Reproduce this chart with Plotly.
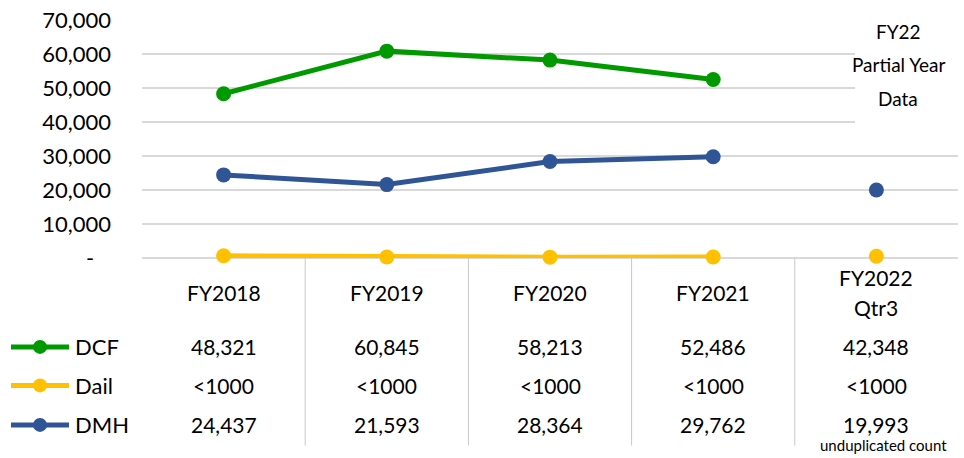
import plotly.graph_objects as go

# Fiscal years and counts per program
categories = ["FY2018", "FY2019", "FY2020", "FY2021", "FY2022 Qtr3"]
cat_lines = [["FY2018"], ["FY2019"], ["FY2020"], ["FY2021"], ["FY2022", "Qtr3"]]

dcf = [48321, 60845, 58213, 52486, 42348]
dail = [650, 300, 250, 300, 500]          # all under 1,000
dmh = [24437, 21593, 28364, 29762, 19993]

dcf_text = ["48,321", "60,845", "58,213", "52,486", "42,348"]
dail_text = ["<1000", "<1000", "<1000", "<1000", "<1000"]
dmh_text = ["24,437", "21,593", "28,364", "29,762", "19,993"]

y_ticks = [0, 10000, 20000, 30000, 40000, 50000, 60000, 70000]
y_tick_text = ["-\u00a0\u00a0\u00a0", "10,000", "20,000", "30,000", "40,000",
               "50,000", "60,000", "70,000"]

GREEN = "#009a00"
YELLOW = "#ffc000"
BLUE = "#2f5597"
FONT = "Lato"

W, H = 964, 458
L, R, T, B = 142, 6, 17, 200
PW, PH = W - L - R, H - T - B


def py(pix):
    """pixel row -> paper y"""
    return (H - B - pix) / PH


def px(pix):
    """pixel column -> paper x"""
    return (pix - L) / PW


fig = go.Figure()

full = categories[:4]
series = [("DCF", dcf, GREEN, False), ("Dail", dail, YELLOW, True), ("DMH", dmh, BLUE, True)]
for name, vals, color, show_partial in series:
    fig.add_trace(go.Scatter(
        x=full, y=vals[:4], mode="lines+markers", name=name,
        line=dict(color=color, width=5),
        marker=dict(color=color, size=15),
        showlegend=False, cliponaxis=False))
    if show_partial:
        fig.add_trace(go.Scatter(
            x=[categories[4]], y=[vals[4]], mode="markers", name=name,
            marker=dict(color=color, size=15),
            showlegend=False, cliponaxis=False))

shapes = []
annotations = []

# white panel behind the partial-year note
shapes.append(dict(type="rect", xref="paper", yref="paper",
                   x0=px(855), x1=px(964), y0=py(0), y1=py(136),
                   fillcolor="white", line=dict(width=0), layer="above"))
for txt, yy in [("FY22", 29), ("Partial Year", 62), ("Data", 96)]:
    annotations.append(dict(xref="paper", yref="paper", x=px(898), y=py(yy),
                            text=txt, showarrow=False, xanchor="center", yanchor="middle",
                            font=dict(family=FONT, size=19, color="#000000")))

# data-table column separators
for i in range(4):
    shapes.append(dict(type="line", xref="x", yref="paper",
                       x0=i + 0.5, x1=i + 0.5, y0=py(258), y1=py(448),
                       line=dict(color="#c8c8c8", width=1)))

# category labels
for c, lines in zip(categories, cat_lines):
    ys = [293] if len(lines) == 1 else [278, 308]
    for lab, yy in zip(lines, ys):
        annotations.append(dict(xref="x", yref="paper", x=c, y=py(yy), text=lab,
                                showarrow=False, xanchor="center", yanchor="middle",
                                font=dict(family=FONT, size=21, color="#000000")))

# table rows
rows = [("DCF", dcf_text, GREEN, 348), ("Dail", dail_text, YELLOW, 387), ("DMH", dmh_text, BLUE, 427)]
for name, texts, color, yy in rows:
    shapes.append(dict(type="line", xref="paper", yref="paper",
                       x0=px(11), x1=px(69), y0=py(yy), y1=py(yy),
                       line=dict(color=color, width=5)))
    shapes.append(dict(type="circle", xref="paper", yref="paper",
                       xsizemode="pixel", ysizemode="pixel",
                       xanchor=px(40), yanchor=py(yy),
                       x0=-7, x1=7, y0=-7, y1=7,
                       fillcolor=color, line=dict(width=0)))
    annotations.append(dict(xref="paper", yref="paper", x=px(73), y=py(yy), text=name,
                            showarrow=False, xanchor="left", yanchor="middle",
                            font=dict(family=FONT, size=22, color="#000000")))
    for c, t in zip(categories, texts):
        annotations.append(dict(xref="x", yref="paper", x=c, y=py(yy), text=t,
                                showarrow=False, xanchor="center", yanchor="middle",
                                font=dict(family=FONT, size=21, color="#000000")))

annotations.append(dict(xref="paper", yref="paper", x=px(883), y=py(447),
                        text="unduplicated count", showarrow=False,
                        xanchor="center", yanchor="middle",
                        font=dict(family=FONT, size=15, color="#000000")))

fig.update_layout(
    width=W, height=H,
    margin=dict(l=L, r=R, t=T, b=B, pad=0),
    paper_bgcolor="white", plot_bgcolor="white",
    font=dict(family=FONT, size=21, color="#000000"),
    shapes=shapes, annotations=annotations,
    xaxis=dict(type="category", categoryorder="array", categoryarray=categories,
               range=[-0.5, 4.5], showticklabels=False, showgrid=False,
               zeroline=False, showline=False, ticks=""),
    yaxis=dict(range=[0, 70000], tickvals=y_ticks, ticktext=y_tick_text,
               showgrid=True, gridcolor="#d9d9d9", gridwidth=1.5,
               zeroline=True, zerolinecolor="#d9d9d9", zerolinewidth=1.5,
               showline=False, ticks="", ticklabelstandoff=30,
               tickfont=dict(family=FONT, size=22, color="#000000")),
)

fig.write_html("out.html")
